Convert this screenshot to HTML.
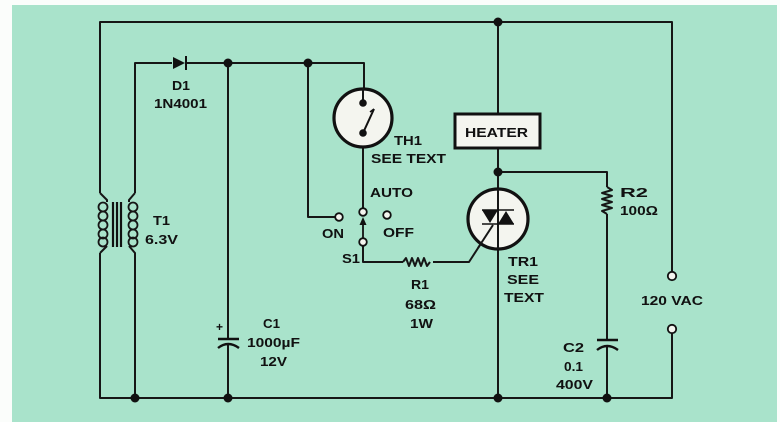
<!DOCTYPE html>
<html><head><meta charset="utf-8"><style>
html,body{margin:0;padding:0;background:#fff;width:780px;height:422px;overflow:hidden}
svg{display:block}
text{font-family:"Liberation Sans",Arial,sans-serif;font-weight:bold;font-size:13px;fill:#111}
</style></head><body>
<svg width="780" height="422" viewBox="0 0 780 422" xmlns="http://www.w3.org/2000/svg">
<rect x="0" y="0" width="780" height="422" fill="#fbfdfb"/>
<rect x="12" y="5" width="765" height="417" fill="#a9e3cb"/>
<g stroke="#161616" stroke-width="2" fill="none" stroke-linejoin="round">
<path d="M100,193 V22 H672 V272"/>
<path d="M672,333 V398 H100 V253"/>
<path d="M100,193 L107,200 V202"/>
<path d="M107,246 L100,253"/>
<path d="M135,193 V63 H172"/>
<path d="M186,63 H364 V88"/>
<path d="M135,193 L129,200 V202"/>
<path d="M129,246 L135,253 V398"/>
<path d="M228,63 V339"/>
<path d="M228,344 V398"/>
<path d="M308,63 V217 H335"/>
<path d="M363,88 V103"/>
<path d="M363,148 V208"/>
<path d="M363,246 V262 H403"/>
<path d="M403,262 l3,-4 l3,8 l3,-8 l3,8 l3,-8 l3,8 l3,-8 l3,8 l3,-4"/>
<path d="M433,262 H469 L493,225"/>
<path d="M498,22 V113"/>
<path d="M498,149 V398"/>
<path d="M498,172 H607 V187"/>
<path d="M607,187 l5,3 l-10,3 l10,3 l-10,3 l10,3 l-10,3 l10,3 l-10,3 l5,3"/>
<path d="M607,214 V340"/>
<path d="M607,346 V398"/>
</g>
<g stroke="#161616" stroke-width="1.8" fill="none">
<ellipse cx="103" cy="207" rx="4.5" ry="4.5"/>
<ellipse cx="103" cy="216" rx="4.5" ry="4.5"/>
<ellipse cx="103" cy="225" rx="4.5" ry="4.5"/>
<ellipse cx="103" cy="234" rx="4.5" ry="4.5"/>
<ellipse cx="103" cy="242" rx="4.5" ry="4.5"/>
<ellipse cx="133" cy="207" rx="4.5" ry="4.5"/>
<ellipse cx="133" cy="216" rx="4.5" ry="4.5"/>
<ellipse cx="133" cy="225" rx="4.5" ry="4.5"/>
<ellipse cx="133" cy="234" rx="4.5" ry="4.5"/>
<ellipse cx="133" cy="242" rx="4.5" ry="4.5"/>
</g>
<g stroke="#111" stroke-width="2.2">
<line x1="113" y1="202" x2="113" y2="247"/>
<line x1="117" y1="202" x2="117" y2="247"/>
<line x1="121" y1="202" x2="121" y2="247"/>
</g>
<polygon points="173,57 173,69 185,63" fill="#111"/>
<line x1="186" y1="56" x2="186" y2="70" stroke="#111" stroke-width="2"/>
<line x1="218" y1="339" x2="239" y2="339" stroke="#111" stroke-width="2.4"/>
<path d="M218,348 Q228,340 239,348" stroke="#111" stroke-width="2.4" fill="none"/>
<text x="216" y="331" style="font-size:12px">+</text>
<line x1="597" y1="340" x2="618" y2="340" stroke="#111" stroke-width="2.4"/>
<path d="M597,350 Q607,342 618,350" stroke="#111" stroke-width="2.4" fill="none"/>
<circle cx="363" cy="118" r="29" fill="#f4f5ef" stroke="#111" stroke-width="3.2"/>
<line x1="363" y1="88" x2="363" y2="103" stroke="#161616" stroke-width="2"/>
<circle cx="363" cy="103" r="3.8" fill="#111"/>
<circle cx="363" cy="133" r="3.8" fill="#111"/>
<line x1="363" y1="133" x2="374" y2="109" stroke="#111" stroke-width="2"/>
<line x1="374" y1="109" x2="370" y2="112" stroke="#111" stroke-width="1.6"/>
<g fill="#f4f5ef" stroke="#111" stroke-width="1.8">
<circle cx="339" cy="217" r="3.8"/>
<circle cx="363" cy="212" r="3.8"/>
<circle cx="387" cy="215" r="3.8"/>
<circle cx="363" cy="242" r="3.8"/>
<circle cx="672" cy="276" r="4.2"/>
<circle cx="672" cy="329" r="4.2"/>
</g>
<line x1="363" y1="238" x2="363" y2="223" stroke="#111" stroke-width="1.8"/>
<polygon points="363,217 359.5,225 366.5,225" fill="#111"/>
<rect x="455" y="114" width="85" height="34" fill="#f4f5ef" stroke="#111" stroke-width="3"/>
<circle cx="498" cy="219" r="30" fill="#f4f5ef" stroke="#111" stroke-width="3.2"/>
<line x1="498" y1="189" x2="498" y2="249" stroke="#161616" stroke-width="2"/>
<line x1="482" y1="210" x2="514" y2="210" stroke="#111" stroke-width="1.6"/>
<line x1="482" y1="224" x2="514" y2="224" stroke="#111" stroke-width="1.6"/>
<polygon points="482,210 498,210 490,223" fill="#111"/>
<polygon points="498,224 514,224 506,211" fill="#111"/>
<line x1="493" y1="225" x2="478" y2="248" stroke="#161616" stroke-width="2"/>
<g fill="#111">
<circle cx="498" cy="22" r="4.5"/>
<circle cx="228" cy="63" r="4.5"/>
<circle cx="308" cy="63" r="4.5"/>
<circle cx="498" cy="172" r="4.5"/>
<circle cx="135" cy="398" r="4.5"/>
<circle cx="228" cy="398" r="4.5"/>
<circle cx="498" cy="398" r="4.5"/>
<circle cx="607" cy="398" r="4.5"/>
</g>
<text x="172" y="90" textLength="18" lengthAdjust="spacingAndGlyphs">D1</text>
<text x="154" y="108" textLength="53" lengthAdjust="spacingAndGlyphs">1N4001</text>
<text x="394" y="145" textLength="28" lengthAdjust="spacingAndGlyphs">TH1</text>
<text x="371" y="163" textLength="75" lengthAdjust="spacingAndGlyphs">SEE TEXT</text>
<text x="370" y="197" textLength="43" lengthAdjust="spacingAndGlyphs">AUTO</text>
<text x="322" y="238" textLength="22" lengthAdjust="spacingAndGlyphs">ON</text>
<text x="383" y="237" textLength="31" lengthAdjust="spacingAndGlyphs">OFF</text>
<text x="342" y="263" textLength="18" lengthAdjust="spacingAndGlyphs">S1</text>
<text x="411" y="289" textLength="18" lengthAdjust="spacingAndGlyphs">R1</text>
<text x="405" y="309" textLength="31" lengthAdjust="spacingAndGlyphs">68Ω</text>
<text x="410" y="328" textLength="23" lengthAdjust="spacingAndGlyphs">1W</text>
<text x="508" y="266" textLength="30" lengthAdjust="spacingAndGlyphs">TR1</text>
<text x="507" y="284" textLength="32" lengthAdjust="spacingAndGlyphs">SEE</text>
<text x="504" y="302" textLength="40" lengthAdjust="spacingAndGlyphs">TEXT</text>
<text x="641" y="305" textLength="62" lengthAdjust="spacingAndGlyphs">120 VAC</text>
<text x="563" y="352" textLength="21" lengthAdjust="spacingAndGlyphs">C2</text>
<text x="564" y="371" textLength="19" lengthAdjust="spacingAndGlyphs">0.1</text>
<text x="556" y="389" textLength="37" lengthAdjust="spacingAndGlyphs">400V</text>
<text x="620" y="197" textLength="28" lengthAdjust="spacingAndGlyphs">R2</text>
<text x="620" y="215" textLength="38" lengthAdjust="spacingAndGlyphs">100Ω</text>
<text x="153" y="225" textLength="17" lengthAdjust="spacingAndGlyphs">T1</text>
<text x="145" y="244" textLength="33" lengthAdjust="spacingAndGlyphs">6.3V</text>
<text x="263" y="328" textLength="17" lengthAdjust="spacingAndGlyphs">C1</text>
<text x="247" y="347" textLength="53" lengthAdjust="spacingAndGlyphs">1000µF</text>
<text x="260" y="366" textLength="27" lengthAdjust="spacingAndGlyphs">12V</text>
<text x="465" y="137" textLength="63" lengthAdjust="spacingAndGlyphs">HEATER</text>
</svg>
</body></html>
